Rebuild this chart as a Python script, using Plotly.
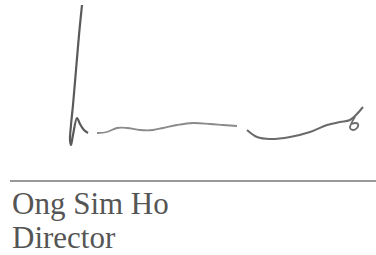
import plotly.graph_objects as go

# Signature strokes (image pixel coordinates)
stroke1_x = [82, 79, 76, 73, 71, 70, 71, 73, 77, 80, 84, 88]
stroke1_y = [5, 35, 70, 105, 125, 140, 145, 135, 118, 124, 130, 133]

stroke2_x = [97, 107, 117, 127, 140, 153, 163, 177, 193, 210, 223, 237]
stroke2_y = [133, 132, 128, 128, 130, 130, 128, 125, 123, 124, 125, 126]

stroke3_x = [247, 257, 270, 290, 310, 327, 340, 350, 363]
stroke3_y = [130, 137, 139, 137, 132, 125, 122, 120, 107]

stroke4_x = [355, 352, 350, 353, 357, 358, 355, 352]
stroke4_y = [117, 122, 128, 130, 128, 124, 123, 124]

rule_x = [10, 376]
rule_y = [181, 181]

name_text = "Ong Sim Ho"
title_text = "Director"

fig = go.Figure()
for sx, sy, w, c in [
    (stroke1_x, stroke1_y, 2.2, "#5a5a5a"),
    (stroke2_x, stroke2_y, 1.8, "#8a8a8a"),
    (stroke3_x, stroke3_y, 2.0, "#6a6a6a"),
    (stroke4_x, stroke4_y, 1.8, "#6a6a6a"),
]:
    fig.add_trace(go.Scatter(x=sx, y=sy, mode="lines",
                             line=dict(color=c, width=w, shape="spline", smoothing=1.0),
                             hoverinfo="skip", showlegend=False))

fig.add_trace(go.Scatter(x=rule_x, y=rule_y, mode="lines",
                         line=dict(color="#777777", width=1.5),
                         hoverinfo="skip", showlegend=False))

font = dict(family="Liberation Serif, Times New Roman, serif", size=31, color="#555555")
fig.add_annotation(x=10, y=203.3, xref="x", yref="y", text=name_text, showarrow=False,
                   xanchor="left", yanchor="middle", font=font)
fig.add_annotation(x=10, y=237.6, xref="x", yref="y", text=title_text, showarrow=False,
                   xanchor="left", yanchor="middle", font=font)

fig.update_layout(
    width=376, height=255,
    margin=dict(l=0, r=0, t=0, b=0),
    paper_bgcolor="white", plot_bgcolor="white",
    xaxis=dict(range=[0, 376], visible=False, fixedrange=True),
    yaxis=dict(range=[255, 0], visible=False, fixedrange=True),
)
fig.write_html("out.html", config={"displayModeBar": False},
               post_script="document.body.style.margin='0';document.body.style.overflow='hidden';")
